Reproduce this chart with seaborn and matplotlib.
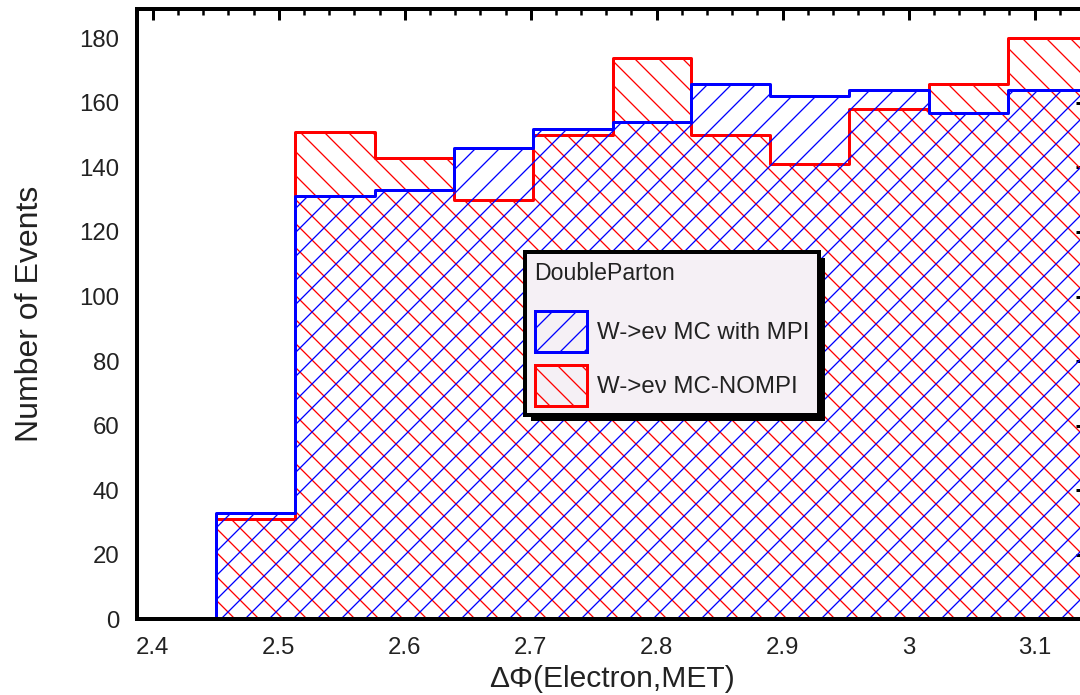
import numpy as np
import matplotlib
matplotlib.use("Agg")
import matplotlib.pyplot as plt
import seaborn as sns
from matplotlib.patches import Patch, Rectangle
from matplotlib.ticker import MultipleLocator, FixedLocator, FixedFormatter

# ---------------- data ----------------
bin_edges = [2.388, 2.450, 2.513, 2.576, 2.639, 2.702, 2.765, 2.827,
             2.890, 2.953, 3.016, 3.079, 3.142]
counts_mpi = [0, 33, 131, 133, 146, 152, 154, 166, 162, 164, 157, 164]
counts_nompi = [0, 31, 151, 143, 130, 150, 174, 150, 141, 158, 166, 180]
series_labels = ["W->eν MC with MPI", "W->eν MC-NOMPI"]
legend_title = "DoubleParton"
x_ticks = [2.4, 2.5, 2.6, 2.7, 2.8, 2.9, 3.0, 3.1]
x_tick_labels = ["2.4", "2.5", "2.6", "2.7", "2.8", "2.9", "3", "3.1"]
y_ticks = [0, 20, 40, 60, 80, 100, 120, 140, 160, 180]
y_tick_labels = ["0", "20", "40", "60", "80", "100", "120", "140", "160", "180"]
x_label = "ΔΦ(Electron,MET)"
y_label = "Number of Events"

BLUE = "#0000FF"
RED = "#FF0000"

sns.set_style("white")
plt.rcParams["font.family"] = ["Liberation Sans", "DejaVu Sans"]
plt.rcParams["hatch.linewidth"] = 1.3

DPI = 72
fig = plt.figure(figsize=(1080 / DPI, 695 / DPI), dpi=DPI)
ax = fig.add_axes([137.2 / 1080, (695 - 619.2) / 695,
                   (1087 - 137.2) / 1080, (619.2 - 8.7) / 695])

centers = (np.array(bin_edges[:-1]) + np.array(bin_edges[1:])) / 2

sns.histplot(x=centers, weights=counts_nompi, bins=bin_edges, element="step",
             fill=True, color=RED, facecolor="none", edgecolor=RED, linewidth=3,
             hatch="\\", ax=ax, zorder=2)
sns.histplot(x=centers, weights=counts_mpi, bins=bin_edges, element="step",
             fill=True, color=BLUE, facecolor="none", edgecolor=BLUE, linewidth=3,
             hatch="/", ax=ax, zorder=3)

ax.set_xlim(2.3876, 3.1416)
ax.set_ylim(0, 189.2)

ax.xaxis.set_major_locator(FixedLocator(x_ticks))
ax.xaxis.set_major_formatter(FixedFormatter(x_tick_labels))
ax.yaxis.set_major_locator(FixedLocator(y_ticks))
ax.yaxis.set_major_formatter(FixedFormatter(y_tick_labels))
ax.xaxis.set_minor_locator(MultipleLocator(0.02))
ax.yaxis.set_minor_locator(MultipleLocator(5))

ax.tick_params(which="both", direction="in", top=True, right=True,
               colors="black", labelcolor="#222222")
ax.tick_params(which="major", length=11, width=3, labelsize=24, pad=18)
ax.tick_params(which="minor", length=6, width=2.5)
for sp in ax.spines.values():
    sp.set_linewidth(4)
    sp.set_color("black")
    sp.set_zorder(4)

ax.set_xlabel(x_label, fontsize=30, color="#222222", labelpad=6)
ax.set_ylabel(y_label, fontsize=32, color="#222222", labelpad=34)

handles = [
    Patch(facecolor="none", edgecolor=BLUE, hatch="/", linewidth=3,
          label=series_labels[0]),
    Patch(facecolor="none", edgecolor=RED, hatch="\\", linewidth=3,
          label=series_labels[1]),
]
leg = ax.legend(handles=handles, title=legend_title, loc="upper left",
                bbox_to_anchor=(525 / 1080, 1 - 252 / 695),
                bbox_transform=fig.transFigure, borderaxespad=0,
                fontsize=24, title_fontsize=23, alignment="left",
                handlelength=2.17, handleheight=2.25, handletextpad=0.42,
                labelspacing=0.54, borderpad=0.4, fancybox=False,
                framealpha=1, facecolor="#f5f0f5", edgecolor="black")
leg._legend_box.sep = 26
leg.get_frame().set_linewidth(4)
for t in leg.get_texts():
    t.set_color("#222222")
leg.get_title().set_color("#222222")
leg.set_zorder(10)

fig.canvas.draw()
bb = leg.get_window_extent()
inv = ax.transAxes.inverted()
(x0, y0) = inv.transform((bb.x0 + 6, bb.y0 - 6))
(x1, y1) = inv.transform((bb.x1 + 6, bb.y1 - 6))
shadow = Rectangle((x0, y0), x1 - x0, y1 - y0, transform=ax.transAxes,
                   facecolor="black", edgecolor="none", zorder=9,
                   clip_on=False)
ax.add_patch(shadow)

fig.savefig("out.png", dpi=DPI)
